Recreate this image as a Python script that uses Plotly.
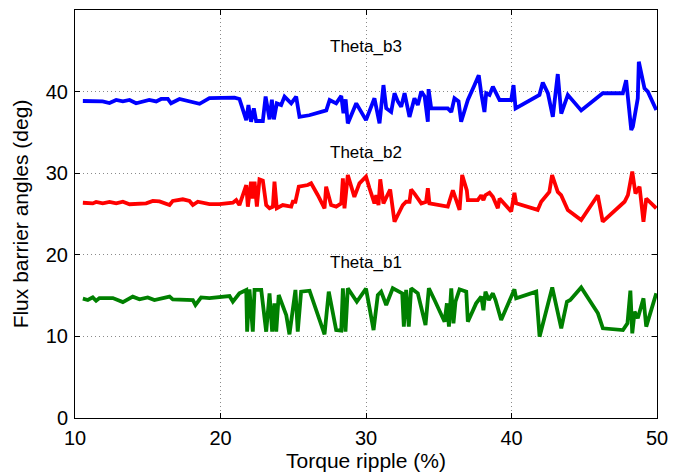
import plotly.graph_objects as go

# Theta_b3 (outer flux barrier) vs torque ripple
ripple_b3 = [10.54, 11.9, 12.37, 12.83, 13.29, 13.75, 14.2, 15.1, 15.58, 15.92, 16.38, 16.6,
             17.18, 17.87, 18.56, 19.24, 20.96, 21.3, 21.77, 21.92, 22.1, 22.29, 22.45, 22.91,
             23.1, 23.37, 23.53, 23.67, 23.87, 24.17, 24.4, 24.86, 25.2, 25.43, 26.1, 27.27,
             27.5, 27.95, 28.3, 28.45, 28.6, 28.75, 29.33, 30.0, 30.58, 30.93, 31.2, 31.39,
             31.73, 31.96, 32.19, 32.42, 32.65, 32.99, 33.33, 33.56, 33.8, 34.03, 34.25, 34.3,
             34.48, 35.62, 35.86, 36.08, 36.36, 36.54, 37.0, 37.46, 37.75, 37.92, 38.14, 38.26,
             38.49, 38.72, 39.18, 39.98, 40.14, 40.28, 41.92, 42.15, 42.5, 42.84, 43.18, 43.42,
             43.87, 44.79, 46.27, 47.65, 47.88, 48.23, 48.34, 48.68, 48.75, 49.14, 49.37, 49.95]
theta_b3 = [38.85, 38.8, 38.6, 38.97, 38.8, 38.97, 38.57, 38.97, 38.8, 39.1, 39.1, 38.57,
            39.1, 38.8, 38.5, 39.2, 39.27, 39.1, 36.5, 38.36, 36.3, 37.95, 36.4, 36.4,
            39.4, 36.6, 39.0, 36.6, 38.56, 38.36, 39.38, 38.56, 39.38, 36.9, 37.1, 37.7,
            38.97, 38.56, 39.47, 37.34, 39.05, 36.1, 38.56, 36.5, 39.18, 36.1, 40.8, 37.95,
            37.5, 39.8, 38.8, 38.15, 39.8, 36.9, 39.18, 38.36, 40.0, 39.4, 36.3, 40.3,
            37.95, 37.95, 37.5, 39.18, 38.8, 36.3, 38.97, 40.8, 42.0, 39.8, 37.5, 39.8,
            39.6, 40.6, 38.97, 38.97, 40.8, 37.95, 39.6, 41.1, 39.8, 36.9, 42.15, 37.3,
            39.6, 37.7, 39.8, 39.8, 41.4, 35.3, 35.7, 39.18, 43.66, 40.4, 40.0, 37.74]

# Theta_b2 (middle flux barrier)
ripple_b2 = [10.54, 11.22, 11.45, 11.91, 12.37, 12.83, 13.29, 13.75, 14.89, 15.35, 15.81, 16.5,
             16.72, 17.41, 17.87, 18.1, 18.44, 19.24, 19.93, 20.85, 21.08, 21.3, 21.77, 21.88,
             22.1, 22.22, 22.34, 22.5, 22.68, 22.91, 23.14, 23.37, 23.6, 23.71, 23.87, 24.28,
             24.86, 24.97, 25.15, 25.38, 26.0, 26.23, 26.69, 27.15, 27.26, 27.6, 27.95, 28.3,
             28.41, 28.52, 28.75, 29.2, 29.55, 30.0, 30.24, 30.58, 30.7, 30.86, 30.98, 31.2,
             31.66, 31.96, 32.53, 32.76, 32.99, 33.1, 33.33, 33.8, 34.13, 34.25, 34.36, 35.62,
             35.97, 36.15, 36.43, 36.61, 36.93, 37.0, 37.68, 37.92, 38.07, 38.2, 38.49, 38.72,
             39.06, 39.18, 39.98, 40.2, 40.32, 41.8, 42.04, 42.6, 42.79, 43.18, 43.41, 43.87,
             44.79, 45.93, 46.27, 47.77, 48.0, 48.3, 48.52, 48.8, 49.07, 49.26, 49.95]
theta_b2 = [26.38, 26.3, 26.47, 26.3, 26.47, 26.3, 26.5, 26.2, 26.3, 26.6, 26.55, 26.1,
            26.6, 26.8, 26.6, 26.1, 26.5, 26.2, 26.2, 26.38, 26.7, 26.1, 28.55, 25.9,
            28.96, 26.9, 28.96, 25.9, 29.25, 29.1, 26.1, 25.7, 25.9, 28.96, 25.7, 26.1,
            25.9, 26.5, 26.5, 28.35, 28.55, 28.76, 27.3, 25.7, 28.35, 26.1, 25.9, 26.3,
            29.37, 25.7, 29.78, 27.1, 28.76, 29.57, 28.15, 26.3, 27.3, 26.1, 29.25, 26.3,
            28.0, 24.06, 26.1, 26.5, 26.5, 28.0, 27.5, 26.3, 26.5, 28.15, 26.3, 25.9,
            27.9, 26.9, 25.5, 29.78, 27.9, 26.7, 26.7, 27.3, 26.7, 27.3, 27.6, 27.1,
            25.7, 26.9, 25.3, 27.6, 26.3, 25.5, 26.5, 27.7, 29.78, 27.7, 27.3, 25.5,
            24.26, 27.3, 24.06, 26.5, 27.3, 30.2, 27.5, 28.35, 24.06, 26.9, 25.7]

# Theta_b1 (inner flux barrier)
ripple_b1 = [10.54, 10.88, 11.22, 11.45, 11.68, 12.6, 13.29, 13.97, 14.43, 15.0, 15.46, 16.03,
             16.5, 16.72, 17.52, 18.1, 18.28, 18.67, 19.24, 19.93, 20.62, 20.85, 21.3, 21.77,
             21.83, 21.99, 22.22, 22.34, 22.8, 23.14, 23.37, 23.55, 23.71, 23.83, 24.0, 24.52,
             24.74, 25.15, 25.31, 25.54, 26.12, 27.15, 27.44, 27.95, 28.3, 28.41, 28.59, 28.75,
             29.37, 30.0, 30.52, 30.81, 31.04, 31.39, 31.84, 32.49, 32.6, 32.76, 32.94, 33.1,
             33.56, 34.09, 34.32, 34.71, 35.4, 35.56, 35.7, 35.86, 36.01, 36.15, 36.43, 36.89,
             37.0, 37.57, 37.92, 38.07, 38.21, 38.44, 38.72, 38.9, 39.29, 40.2, 40.32, 41.7,
             41.93, 42.8, 43.42, 43.81, 44.04, 44.79, 45.94, 46.28, 47.66, 47.97, 48.17, 48.3,
             48.46, 48.68, 49.07, 49.26, 49.95]
theta_b1 = [14.62, 14.46, 14.78, 14.37, 14.7, 14.7, 14.2, 14.87, 14.54, 14.78, 14.46, 14.62,
            14.87, 14.54, 14.54, 14.46, 13.85, 14.78, 14.7, 14.79, 14.95, 14.25, 15.28, 15.69,
            10.58, 15.77, 10.58, 15.69, 15.69, 10.58, 15.28, 10.58, 14.05, 10.58, 15.07, 12.6,
            10.25, 15.69, 10.58, 15.48, 15.6, 10.25, 15.48, 10.78, 10.7, 15.9, 10.58, 15.9,
            14.25, 15.85, 10.78, 15.07, 15.48, 13.85, 15.9, 15.28, 11.2, 15.69, 11.2, 15.9,
            15.28, 11.4, 15.9, 14.46, 11.8, 14.05, 11.2, 15.9, 11.6, 14.25, 15.77, 15.48,
            11.8, 14.05, 14.87, 13.2, 15.48, 14.46, 15.28, 14.46, 12.0, 15.77, 14.66, 15.48,
            9.96, 16.0, 10.99, 14.25, 14.46, 16.0, 12.83, 10.99, 10.78, 11.6, 15.6, 10.38,
            13.03, 12.22, 14.66, 11.2, 15.28]

series_names = ["Theta_b3", "Theta_b2", "Theta_b1"]
label_pos_x = [30.0, 30.0, 30.0]
label_pos_y = [45.5, 32.5, 19.1]

x_ticks = [10, 20, 30, 40, 50]
y_ticks = [0, 10, 20, 30, 40, 50]

FONT = "Liberation Sans, Arial, Helvetica, sans-serif"

fig = go.Figure()
for xs, ys, color in [(ripple_b3, theta_b3, "#0000ff"),
                      (ripple_b2, theta_b2, "#ff0000"),
                      (ripple_b1, theta_b1, "#008000")]:
    fig.add_trace(go.Scatter(x=xs, y=ys, mode="lines",
                             line=dict(color=color, width=3.8),
                             showlegend=False))

for name, lx, ly in zip(series_names, label_pos_x, label_pos_y):
    fig.add_annotation(x=lx, y=ly, text=name, showarrow=False,
                       font=dict(family=FONT, size=17, color="black"))

axis_common = dict(
    showline=True, linecolor="black", linewidth=1, mirror="ticks",
    ticks="inside", ticklen=5, tickcolor="black",
    showgrid=True, gridcolor="#8a8a8a", griddash="1px,3px", gridwidth=1,
    zeroline=False,
    tickfont=dict(family=FONT, size=20, color="black"),
)

fig.update_xaxes(range=[10, 50], tickvals=x_ticks, ticklabelstandoff=2,
                 title=dict(text="Torque ripple (%)", standoff=2,
                            font=dict(family=FONT, size=21, color="black")),
                 **axis_common)
fig.update_yaxes(range=[0, 50], tickvals=y_ticks, ticklabelstandoff=2,
                 title=dict(text="Flux barrier angles (deg)", standoff=11,
                            font=dict(family=FONT, size=21, color="black")),
                 **axis_common)

fig.update_layout(
    width=690, height=476,
    margin=dict(l=75, r=33, t=10, b=58),
    paper_bgcolor="white", plot_bgcolor="white",
    font=dict(family=FONT, color="black"),
)

fig.write_html("out.html")
